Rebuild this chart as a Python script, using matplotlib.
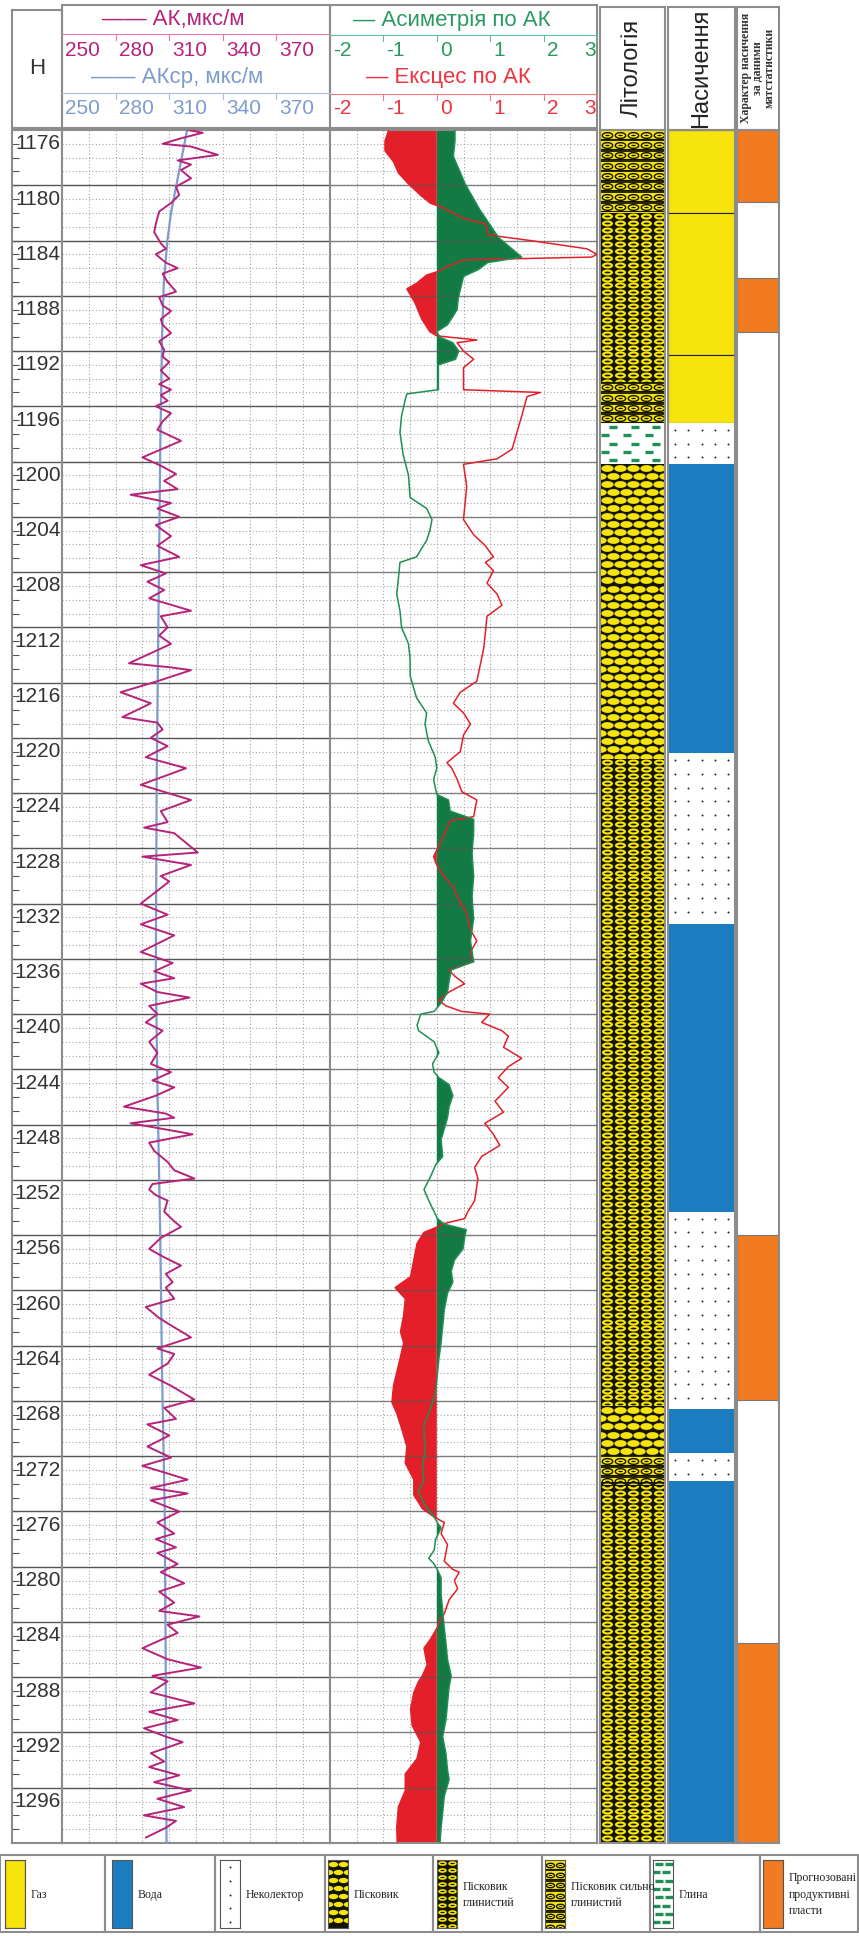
import numpy as np
import matplotlib
matplotlib.use('Agg')
import matplotlib.pyplot as plt
from matplotlib.patches import Rectangle
from matplotlib.path import Path

plt.rcParams['font.family'] = ['Liberation Sans', 'DejaVu Sans']

depth_ak = [1175.0, 1175.2, 1175.6, 1176.0, 1176.2, 1176.8, 1177.2, 1177.5, 1177.9, 1178.5,
            1179.1, 1179.7, 1180.3, 1180.9, 1181.8, 1182.4, 1183.2, 1183.6, 1184.0, 1184.6,
            1185.0, 1185.4, 1186.0, 1186.7, 1187.1, 1187.7, 1188.1, 1188.7, 1189.1, 1189.7,
            1190.3, 1190.9, 1191.4, 1191.8, 1192.4, 1193.0, 1193.4, 1193.8, 1194.2, 1194.6,
            1195.0, 1195.5, 1196.1, 1196.7, 1197.5, 1198.7, 1199.3, 1199.9, 1200.4, 1201.0,
            1201.4, 1202.0, 1202.4, 1203.0, 1203.6, 1204.4, 1205.1, 1205.9, 1206.5, 1207.1,
            1207.7, 1208.3, 1208.9, 1209.8, 1210.2, 1211.0, 1211.6, 1212.2, 1213.6, 1213.9,
            1214.1, 1214.9, 1215.7, 1216.5, 1217.5, 1217.9, 1218.4, 1219.0, 1219.6, 1220.4,
            1221.2, 1222.4, 1223.5, 1224.3, 1225.1, 1225.5, 1225.9, 1227.3, 1227.6, 1228.2,
            1229.0, 1229.4, 1231.0, 1231.8, 1232.5, 1233.3, 1234.5, 1235.3, 1235.9, 1236.4,
            1236.8, 1237.4, 1237.8, 1238.4, 1239.0, 1239.6, 1240.2, 1241.0, 1241.8, 1242.6,
            1243.2, 1243.8, 1244.3, 1244.9, 1245.7, 1246.2, 1246.5, 1246.9, 1247.5, 1247.7,
            1248.3, 1248.9, 1249.7, 1250.3, 1250.9, 1251.3, 1251.7, 1252.1, 1252.5, 1253.3,
            1254.0, 1254.4, 1255.2, 1256.0, 1256.6, 1257.2, 1257.8, 1258.4, 1258.8, 1259.6,
            1260.2, 1261.0, 1261.6, 1262.4, 1263.2, 1263.6, 1264.3, 1265.1, 1265.9, 1266.9,
            1267.5, 1268.3, 1268.7, 1269.5, 1270.3, 1271.1, 1271.7, 1272.1, 1272.7, 1273.3,
            1273.7, 1274.2, 1275.0, 1275.8, 1276.6, 1277.0, 1277.6, 1278.0, 1278.8, 1279.4,
            1280.2, 1280.8, 1281.6, 1282.2, 1282.6, 1283.2, 1283.8, 1284.3, 1284.9, 1285.7,
            1286.3, 1286.9, 1287.3, 1288.1, 1288.9, 1289.5, 1290.1, 1290.7, 1291.3, 1291.7,
            1292.5, 1293.1, 1293.5, 1294.1, 1294.6, 1295.2, 1295.8, 1296.4, 1297.0, 1297.4,
            1297.9, 1298.6]
ak = [320.3, 328.8, 316.6, 306.3, 322.2, 337.2, 314.7, 322.2, 316.6, 322.2,
      313.8, 315.6, 310.9, 304.4, 302.5, 301.6, 305.3, 308.1, 302.5, 308.1,
      314.7, 306.3, 309.1, 313.8, 304.4, 306.3, 311.0, 305.3, 306.3, 311.0,
      304.4, 307.2, 306.3, 310.0, 305.3, 310.0, 304.4, 311.0, 305.3, 309.1,
      302.5, 311.0, 306.3, 303.4, 316.6, 295.0, 305.3, 313.8, 307.2, 314.7,
      288.4, 311.0, 303.4, 315.6, 302.5, 311.0, 303.4, 315.6, 294.1, 308.1,
      297.8, 307.2, 298.8, 322.2, 305.3, 309.1, 304.4, 311.0, 287.5, 311.0,
      322.2, 303.4, 282.8, 299.7, 283.8, 303.4, 306.3, 299.7, 309.1, 296.9,
      319.4, 294.1, 322.2, 305.3, 309.1, 296.0, 312.8, 326.0, 295.0, 322.2,
      305.3, 310.0, 294.1, 309.1, 294.1, 312.8, 294.1, 311.9, 301.6, 312.8,
      294.1, 303.4, 321.3, 298.8, 303.4, 296.9, 306.3, 298.8, 303.4, 299.7,
      311.0, 300.6, 312.8, 302.5, 284.7, 308.1, 312.8, 288.4, 314.7, 323.1,
      298.8, 301.6, 309.1, 312.8, 324.1, 300.6, 298.8, 302.5, 309.1, 307.2,
      312.8, 316.6, 305.3, 298.8, 307.2, 316.6, 308.1, 311.9, 308.1, 312.8,
      296.9, 304.4, 311.9, 322.2, 303.4, 312.8, 309.1, 298.8, 311.0, 324.1,
      307.2, 313.8, 297.8, 310.0, 297.8, 311.0, 295.0, 305.3, 320.3, 299.7,
      320.3, 299.7, 315.6, 303.4, 312.8, 302.5, 313.8, 303.4, 314.7, 305.3,
      318.4, 304.4, 312.8, 304.4, 326.9, 309.1, 314.7, 305.3, 295.0, 309.1,
      327.8, 300.6, 309.1, 299.7, 324.1, 298.8, 314.7, 295.9, 308.1, 317.5,
      299.7, 307.2, 298.8, 315.6, 301.6, 322.2, 303.4, 318.4, 295.9, 313.8,
      308.1, 297.0]

depth_akcp = [1175, 1177, 1179, 1181, 1183, 1186, 1190, 1198, 1210, 1222,
              1236, 1245, 1255, 1265, 1275, 1285, 1299]
akcp = [320, 317, 314, 311, 309, 307, 306, 305, 304, 303,
        302.5, 303.5, 305, 306, 307.5, 308, 308.5]

depth_asym = [1175.0, 1175.8, 1176.9, 1178.9, 1180.8, 1182.8, 1184.2, 1184.6, 1185.1, 1185.6,
              1186.4, 1187.2, 1188.0, 1188.5, 1189.1, 1189.6, 1190.0, 1190.4, 1191.0, 1191.6,
              1192.0, 1193.8, 1194.1, 1194.5, 1195.7, 1196.9, 1198.5, 1200.0, 1201.6, 1202.4,
              1203.2, 1204.0, 1204.7, 1205.9, 1206.3, 1207.5, 1208.6, 1209.8, 1211.0, 1212.2,
              1213.3, 1214.5, 1216.1, 1217.2, 1218.0, 1219.2, 1220.4, 1221.2, 1222.0, 1223.1,
              1223.5, 1224.3, 1224.9, 1225.8, 1227.4, 1229.0, 1230.5, 1232.1, 1233.7, 1235.2,
              1235.8, 1236.6, 1237.4, 1238.2, 1238.8, 1239.0, 1239.8, 1240.2, 1241.0, 1241.8,
              1242.6, 1243.2, 1243.6, 1244.1, 1244.9, 1245.7, 1246.5, 1247.3, 1248.1, 1249.3,
              1249.9, 1250.7, 1251.7, 1252.5, 1253.3, 1253.8, 1254.2, 1254.6, 1255.2, 1256.0,
              1256.8, 1257.6, 1258.4, 1259.2, 1260.4, 1261.6, 1262.8, 1263.9, 1265.1, 1266.3,
              1267.1, 1267.9, 1268.7, 1269.5, 1270.3, 1271.1, 1271.9, 1272.7, 1273.5, 1274.2,
              1274.8, 1275.4, 1275.8, 1276.2, 1277.0, 1277.8, 1278.4, 1278.8, 1279.2, 1279.8,
              1281.0, 1282.2, 1283.4, 1284.5, 1285.7, 1286.9, 1287.7, 1288.9, 1290.1, 1291.3,
              1292.5, 1293.7, 1294.4, 1295.6, 1296.8, 1297.9, 1299.0]
asym = [0.34, 0.34, 0.31, 0.53, 0.81, 1.16, 1.59, 0.95, 0.78, 0.50,
        0.45, 0.40, 0.38, 0.30, 0.20, 0.0, 0.06, 0.30, 0.41, 0.35,
        0.03, 0.03, -0.56, -0.59, -0.66, -0.69, -0.63, -0.53, -0.50, -0.19,
        -0.09, -0.13, -0.19, -0.38, -0.69, -0.72, -0.75, -0.69, -0.66, -0.53,
        -0.50, -0.50, -0.38, -0.19, -0.22, -0.16, -0.03, 0.0, -0.06, 0.0,
        0.22, 0.25, 0.69, 0.69, 0.66, 0.69, 0.66, 0.69, 0.63, 0.69,
        0.27, 0.23, 0.20, 0.08, -0.05, -0.30, -0.37, -0.34, -0.05, 0.04,
        -0.08, -0.05, 0.04, 0.23, 0.30, 0.23, 0.20, 0.14, 0.08, 0.11,
        -0.02, -0.11, -0.24, -0.15, -0.05, 0.01, 0.14, 0.55, 0.52, 0.49,
        0.33, 0.27, 0.30, 0.20, 0.14, 0.11, 0.08, 0.04, 0.01, -0.02,
        -0.08, -0.15, -0.24, -0.24, -0.21, -0.24, -0.27, -0.24, -0.34, -0.27,
        -0.18, -0.05, 0.01, 0.08, -0.02, -0.05, -0.15, -0.05, 0.01, 0.08,
        0.08, 0.11, 0.14, 0.17, 0.20, 0.27, 0.23, 0.20, 0.17, 0.11,
        0.17, 0.20, 0.23, 0.14, 0.11, 0.08, 0.06]

depth_exc = [1175.0, 1175.8, 1176.5, 1177.3, 1178.1, 1178.9, 1179.7, 1180.3, 1180.6, 1181.4,
             1181.8, 1182.6, 1183.0, 1183.6, 1184.0, 1184.2, 1184.4, 1185.0, 1185.2, 1185.5,
             1186.1, 1186.5, 1187.5, 1188.7, 1189.6, 1189.9, 1190.2, 1190.4, 1191.0, 1191.6,
             1192.2, 1193.8, 1194.0, 1194.3, 1195.7, 1198.1, 1198.8, 1199.2, 1200.8, 1203.2,
             1204.3, 1205.1, 1205.9, 1206.3, 1206.9, 1207.8, 1208.6, 1209.4, 1210.2, 1212.5,
             1214.9, 1215.7, 1216.5, 1217.2, 1218.0, 1218.8, 1220.0, 1220.8, 1221.2, 1222.0,
             1222.9, 1223.5, 1224.7, 1225.0, 1225.8, 1227.6, 1228.2, 1229.0, 1229.8, 1230.5,
             1231.7, 1232.9, 1233.7, 1234.5, 1235.2, 1235.8, 1236.2, 1236.8, 1237.4, 1238.0,
             1238.4, 1238.8, 1239.0, 1239.6, 1240.2, 1240.6, 1241.4, 1242.2, 1242.8, 1243.6,
             1244.3, 1245.3, 1246.1, 1246.9, 1247.7, 1248.5, 1249.3, 1250.1, 1250.9, 1252.5,
             1253.3, 1253.8, 1254.2, 1254.4, 1254.8, 1255.6, 1256.8, 1258.0, 1258.8, 1259.6,
             1260.8, 1262.0, 1262.8, 1264.3, 1265.9, 1267.1, 1267.9, 1269.1, 1270.3, 1271.5,
             1272.7, 1273.8, 1274.8, 1275.4, 1275.8, 1276.6, 1277.4, 1278.6, 1279.2, 1279.4,
             1280.0, 1280.6, 1281.4, 1282.4, 1283.0, 1283.4, 1284.2, 1284.9, 1286.1, 1286.9,
             1287.3, 1288.1, 1289.3, 1290.5, 1291.7, 1292.9, 1294.0, 1295.2, 1296.4, 1297.9,
             1299.0]
excess = [-0.90, -0.97, -0.97, -0.81, -0.72, -0.53, -0.31, -0.12, 0.10, 0.50,
          0.91, 0.97, 1.75, 2.81, 3.0, 2.9, 0.50, 0.13, 0.06, -0.19,
          -0.38, -0.56, -0.41, -0.28, -0.13, 0.0, 0.75, 0.38, 0.50, 0.69,
          0.50, 0.50, 1.94, 1.69, 1.59, 1.41, 1.13, 0.50, 0.56, 0.50,
          0.69, 0.91, 1.06, 0.91, 1.06, 0.94, 1.13, 1.22, 0.94, 0.88,
          0.75, 0.44, 0.31, 0.50, 0.63, 0.50, 0.44, 0.19, 0.28, 0.38,
          0.47, 0.75, 0.69, 0.25, 0.16, -0.06, 0.0, 0.13, 0.31, 0.38,
          0.56, 0.63, 0.75, 0.63, 0.69, 0.23, 0.32, 0.52, 0.23, 0.04,
          0.17, 0.46, 0.99, 0.84, 1.22, 1.34, 1.25, 1.59, 1.34, 1.15,
          1.34, 1.09, 1.25, 0.90, 1.06, 1.18, 0.84, 0.71, 0.77, 0.71,
          0.58, 0.52, 0.10, 0.01, -0.24, -0.37, -0.43, -0.49, -0.78, -0.59,
          -0.62, -0.68, -0.62, -0.71, -0.81, -0.84, -0.75, -0.65, -0.56, -0.59,
          -0.43, -0.43, -0.27, -0.05, 0.14, 0.08, 0.20, 0.14, 0.30, 0.42,
          0.33, 0.39, 0.23, 0.14, 0.04, 0.01, -0.11, -0.24, -0.18, -0.27,
          -0.34, -0.43, -0.49, -0.46, -0.30, -0.37, -0.59, -0.59, -0.72, -0.75,
          -0.74]

# lithology intervals
lith_top = [1175.0, 1181.0, 1193.3, 1196.2, 1199.2, 1220.5, 1267.4, 1271.0, 1272.9]
lith_bot = [1181.0, 1193.3, 1196.2, 1199.2, 1220.5, 1267.4, 1271.0, 1272.9, 1299.0]
lith_kind = ['strong', 'clayey', 'strong', 'clay', 'sand', 'clayey', 'sand', 'strong', 'clayey']

# saturation intervals
sat_top = [1175.0, 1181.0, 1191.3, 1196.2, 1199.2, 1220.1, 1232.5, 1253.3, 1267.6, 1270.8, 1272.8]
sat_bot = [1181.0, 1191.3, 1196.2, 1199.2, 1220.1, 1232.5, 1253.3, 1267.6, 1270.8, 1272.8, 1299.0]
sat_kind = ['gas', 'gas', 'gas', 'non', 'water', 'non', 'water', 'non', 'water', 'non', 'water']

# predicted productive layers
prod_top = [1175.0, 1185.7, 1255.0, 1284.5]
prod_bot = [1180.2, 1189.6, 1266.9, 1299.0]

depth_labels = list(range(1176, 1297, 4))
ak_scale = [250, 280, 310, 340, 370]
asym_scale = [-2, -1, 0, 1, 2, 3]

legend_kind = ['gas', 'water', 'non', 'sand', 'clayey', 'strong', 'clay', 'prod']
legend_text = ['Газ', 'Вода', 'Неколектор', 'Пісковик', 'Пісковик\nглинистий',
               'Пісковик сильно\nглинистий', 'Глина', 'Прогнозовані\nпродуктивні\nпласти']

# ---------------- styling ----------------
MAG = '#b5237b'
AKCP = '#7d9bcc'
GREEN = '#137a44'
GREEN_LINE = '#1f8f55'
RED = '#e3202a'
YELLOW = '#f6e40c'
BLUE = '#1c7cc0'
ORANGE = '#f27a20'
BORDER = '#8c8c8c'
GRID = '#a3a3a3'

W, H = 859, 1936
TOP, BOT = 130, 1843
D0, D1 = 1175.0, 1299.0
PX_M = (BOT - TOP) / (D1 - D0)

fig = plt.figure(figsize=(W / 100, H / 100), dpi=100)


def add_ax(x0, x1, y0, y1, spine=BORDER, lw=1.5):
    ax = fig.add_axes([x0 / W, 1 - y1 / H, (x1 - x0) / W, (y1 - y0) / H])
    ax.set_xticks([])
    ax.set_yticks([])
    for s in ax.spines.values():
        s.set_color(spine)
        s.set_linewidth(lw)
    return ax


def oval(ry):
    t = np.linspace(0, 2 * np.pi, 36)
    return Path(np.column_stack([np.cos(t), ry * np.sin(t)]))


OVAL = oval(0.55)
SLOT = oval(0.3)


def pattern(ax, kind, top, bot, wpx):
    h = bot - top
    if kind == 'gas':
        ax.add_patch(Rectangle((0, top), 1, h, fc=YELLOW, ec='#222222', lw=0.8))
        return
    if kind == 'water':
        ax.add_patch(Rectangle((0, top), 1, h, fc=BLUE, lw=0))
        return
    if kind == 'prod':
        ax.add_patch(Rectangle((0, top), 1, h, fc=ORANGE, ec='#777777', lw=0.8))
        return
    if kind == 'non':
        ax.add_patch(Rectangle((0, top), 1, h, fc='white', lw=0))
        ncol = max(1, int(wpx / 13))
        xs = (np.arange(ncol) + 0.5) / ncol
        ys = np.arange(top + 0.5, bot, 1.0)
        X, Y = np.meshgrid(xs, ys)
        ax.scatter(X.ravel(), Y.ravel(), s=2, c='#222222', lw=0)
        return
    if kind == 'clay':
        ax.add_patch(Rectangle((0, top), 1, h, fc='white', lw=0))
        ncol = max(2, int(round(wpx / 20)))
        px, py = [], []
        for i, y in enumerate(np.arange(top + 0.3, bot, 0.6)):
            off = 0.25 if i % 2 else 0.6
            for j in range(ncol):
                px.append((j + off) / ncol)
                py.append(y)
        ax.scatter(px, py, marker='_', s=26, linewidths=2.4, c=GREEN_LINE)
        return
    ncol = max(2, int(round(wpx / 12.5)))
    cw = wpx / ncol * 0.72
    if kind == 'sand':
        ax.add_patch(Rectangle((0, top), 1, h, fc='#151505', lw=0))
        px, py = [], []
        for i, y in enumerate(np.arange(top + 0.29, bot, 0.58)):
            xs = np.arange(ncol + 1) / ncol if i % 2 else (np.arange(ncol) + 0.5) / ncol
            px.extend(xs)
            py.extend([y] * len(xs))
        ax.scatter(px, py, marker=OVAL, s=(cw * 0.95) ** 2, c=YELLOW, lw=0)
        return
    if kind == 'clayey':
        ax.add_patch(Rectangle((0, top), 1, h, fc='#151505', lw=0))
        xs = (np.arange(ncol) + 0.5) / ncol
        ys = np.arange(top + 0.25, bot, 0.5)
        X, Y = np.meshgrid(xs, ys)
        ax.scatter(X.ravel(), Y.ravel(), marker=OVAL, s=(cw * 0.85) ** 2, c=YELLOW, lw=0)
        ax.scatter(X.ravel(), Y.ravel(), marker=SLOT, s=(cw * 0.45) ** 2, c='#151505', lw=0)
        return
    if kind == 'strong':
        ax.add_patch(Rectangle((0, top), 1, h, fc=YELLOW, lw=0))
        lines = np.arange(top, bot, 0.75)
        ax.hlines(lines, 0, 1, color='#151505', lw=1.3)
        ax.hlines(lines + 0.62, 0, 1, color='#151505', lw=0.8)
        xs = (np.arange(ncol) + 0.5) / ncol
        X, Y = np.meshgrid(xs, lines + 0.33)
        ax.scatter(X.ravel(), Y.ravel(), marker=OVAL, s=(cw * 0.8) ** 2, c=YELLOW,
                   edgecolors='#151505', linewidths=1.0)
        ax.scatter(X.ravel(), Y.ravel(), marker=SLOT, s=(cw * 0.35) ** 2, c='#151505', lw=0)


majors = np.arange(1179, 1299, 4)
minors = np.arange(1176, 1299, 1)

# ---------------- depth column ----------------
ax_d = add_ax(12, 62, TOP, BOT)
ax_d.set_xlim(0, 1)
ax_d.set_ylim(D1, D0)
ax_d.hlines(majors, 0, 1, color='#555555', lw=1.0)
ax_d.hlines(minors, 0, 0.14, color='#555555', lw=0.8)
for d in depth_labels:
    ax_d.text(0.97, d, str(d), ha='right', va='center', fontsize=15, color='#333333')

# ---------------- AK track ----------------
ax_ak = add_ax(62, 330, TOP, BOT)
ax_ak.set_xlim(250, 400)
ax_ak.set_ylim(D1, D0)
ax_ak.hlines(minors, 250, 400, color=GRID, lw=0.8, linestyles=(0, (1, 2)), zorder=1)
ax_ak.vlines(np.arange(265, 400, 15), D0, D1, color=GRID, lw=0.8, linestyles=(0, (1, 2)), zorder=1)
ax_ak.hlines(majors, 250, 400, color='#555555', lw=1.0, zorder=1)
ax_ak.plot(akcp, depth_akcp, color=AKCP, lw=1.6, zorder=3)
ax_ak.plot(ak, depth_ak, color=MAG, lw=1.4, zorder=4)

# ---------------- asymmetry / excess track ----------------
ax_as = add_ax(330, 597, TOP, BOT)
ax_as.set_xlim(-2, 3)
ax_as.set_ylim(D1, D0)
da, av = np.array(depth_asym), np.array(asym)
de, ev = np.array(depth_exc), np.array(excess)
ax_as.hlines(minors, -2, 3, color=GRID, lw=0.8, linestyles=(0, (1, 2)), zorder=1)
ax_as.vlines(np.arange(-1.5, 3, 0.5), D0, D1, color=GRID, lw=0.8, linestyles=(0, (1, 2)), zorder=1)
ax_as.fill_betweenx(da, 0, av, where=av >= 0, interpolate=True, color=GREEN, lw=0, zorder=2)
ax_as.fill_betweenx(de, 0, ev, where=ev <= 0, interpolate=True, color=RED, lw=0, zorder=2)
ax_as.hlines(majors, -2, 3, color='#555555', lw=1.0, alpha=0.7, zorder=3)
ax_as.plot(ev, de, color=RED, lw=1.1, zorder=4)
ax_as.plot(av, da, color=GREEN_LINE, lw=1.1, zorder=5)

# ---------------- lithology / saturation / prediction ----------------
ax_li = add_ax(600, 665, TOP, BOT)
ax_li.set_xlim(0, 1)
ax_li.set_ylim(D1, D0)
for t, b, k in zip(lith_top, lith_bot, lith_kind):
    pattern(ax_li, k, t, b, 65)

ax_sa = add_ax(668, 735, TOP, BOT)
ax_sa.set_xlim(0, 1)
ax_sa.set_ylim(D1, D0)
for t, b, k in zip(sat_top, sat_bot, sat_kind):
    pattern(ax_sa, k, t, b, 67)

ax_pr = add_ax(737, 779, TOP, BOT)
ax_pr.set_xlim(0, 1)
ax_pr.set_ylim(D1, D0)
for t, b in zip(prod_top, prod_bot):
    pattern(ax_pr, 'prod', t, b, 42)

# ---------------- header and legend (pixel overlay) ----------------
ov = fig.add_axes([0, 0, 1, 1], zorder=10)
ov.set_xlim(0, W)
ov.set_ylim(H, 0)
ov.axis('off')
ov.patch.set_alpha(0)

for x0, y0, x1, y1 in [(12, 10, 62, 128), (62, 5, 330, 128), (330, 5, 597, 128),
                       (600, 7, 665, 130), (668, 7, 735, 130), (737, 7, 779, 130)]:
    ov.add_patch(Rectangle((x0, y0), x1 - x0, y1 - y0, fill=False, ec=BORDER, lw=1.5))

ov.text(37, 68, 'Н', ha='center', va='center', fontsize=16, color='#333333')


def header_scale(y_title, y_line, y_lab, title, col, tcol, labels, lo, hi, x0, x1, xt):
    ov.text(xt, y_title, title, ha='center', va='center', fontsize=16, color=tcol)
    ov.plot([x0, x1], [y_line, y_line], color=col, lw=0.8)
    for i, v in enumerate(labels):
        x = x0 + (v - lo) / (hi - lo) * (x1 - x0)
        if i > 0:
            ov.plot([x, x], [y_line, y_line + 6], color=col, lw=0.8)
        if x > x1 - 10:
            ov.text(x1 - 1, y_lab, str(v), ha='right', va='center', fontsize=15, color=tcol)
        else:
            ov.text(x + 3, y_lab, str(v), ha='left', va='center', fontsize=15, color=tcol)


header_scale(20, 34, 51, '—— АК,мкс/м', '#e07ab0', MAG, ak_scale, 250, 400, 62, 330, 173)
header_scale(78, 93, 109, '—— АКср, мкс/м', '#a8bde0', AKCP, ak_scale, 250, 400, 62, 330, 177)
header_scale(20, 35, 51, '— Асиметрія по АК', '#5fc09a', '#2a9a60', asym_scale, -2, 3, 330, 597, 452)
header_scale(78, 94, 109, '— Ексцес по АК', '#f47a80', '#ee3440', asym_scale, -2, 3, 330, 597, 448)

ov.text(632, 68, 'Літологія', rotation=90, ha='center', va='center', fontsize=17, color='#222222')
ov.text(701, 68, 'Насичення', rotation=90, ha='center', va='center', fontsize=17, color='#222222')
ov.text(758, 68, 'Характер насичення\nза даними\nматстатистики', rotation=90, ha='center',
        va='center', fontsize=8.5, family='Liberation Serif', weight='bold', linespacing=1.0,
        multialignment='center', color='#333333')

# legend
box_x = [0, 105, 215, 325, 433, 542, 650, 760, 858]
swatch_x = [5, 112, 220, 328, 437, 545, 653, 763]
for i, (kind, label) in enumerate(zip(legend_kind, legend_text)):
    ov.add_patch(Rectangle((box_x[i], 1855), box_x[i + 1] - box_x[i], 77, fill=False,
                           ec=BORDER, lw=1.5))
    sx = swatch_x[i]
    sw = add_ax(sx, sx + 20, 1860, 1928, spine='#555555', lw=0.8)
    hm = 68 / PX_M
    sw.set_xlim(0, 1)
    sw.set_ylim(hm, 0)
    pattern(sw, kind, 0, hm, 20)
    ov.text(sx + 26, 1895, label, ha='left', va='center', fontsize=8.5,
            family='Liberation Serif', color='#222222', linespacing=1.5)

fig.savefig('out.png', dpi=100, facecolor='white')
